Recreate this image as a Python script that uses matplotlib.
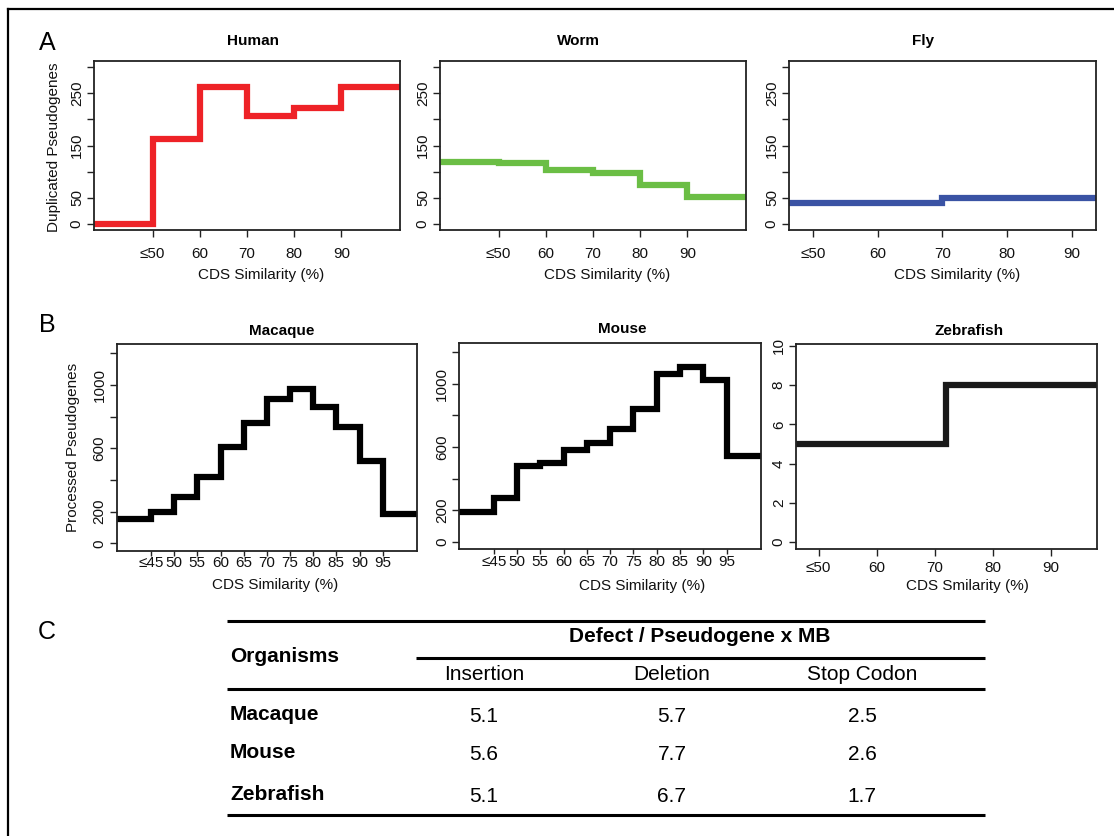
import matplotlib
matplotlib.use("Agg")
import matplotlib.pyplot as plt
from matplotlib.lines import Line2D

plt.rcParams['font.family'] = ['Liberation Sans', 'DejaVu Sans']

W, H = 1114, 836

# ---------------- data ----------------
# Panel A: duplicated pseudogenes by CDS similarity (bins)
dup_edges = [35, 50, 60, 70, 80, 90, 105]
human_vals = [0, 163, 262, 207, 221, 263]
worm_vals = [119, 117, 103, 98, 75, 51]
fly_edges = [40, 70, 100]
fly_vals = [39, 49]
a_xticks = [50, 60, 70, 80, 90]
a_xticklabels = ['≤50', '60', '70', '80', '90']
a_yticks = [0, 50, 100, 150, 200, 250, 300]
a_yticklabels = ['0', '50', '', '150', '', '250', '']

# Panel B: processed pseudogenes
proc_edges = [35, 45, 50, 55, 60, 65, 70, 75, 80, 85, 90, 95, 105]
macaque_vals = [154, 200, 291, 417, 606, 762, 909, 973, 859, 733, 520, 187]
mouse_vals = [189, 280, 480, 499, 583, 625, 712, 842, 1061, 1109, 1027, 543]
b_xticks = [45, 50, 55, 60, 65, 70, 75, 80, 85, 90, 95]
b_xticklabels = ['≤45', '50', '55', '60', '65', '70', '75', '80', '85', '90', '95']
b_yticks = [0, 200, 400, 600, 800, 1000, 1200]
b_yticklabels = ['0', '200', '', '600', '', '1000', '']
zebra_edges = [40, 72, 100]
zebra_vals = [5, 8]
z_yticks = [0, 2, 4, 6, 8, 10]

# Panel C: table
table_cols = ['Insertion', 'Deletion', 'Stop Codon']
table_rows = ['Macaque', 'Mouse', 'Zebrafish']
insertion = [5.1, 5.6, 5.1]
deletion = [5.7, 7.7, 6.7]
stop_codon = [2.5, 2.6, 1.7]

# ---------------- helpers ----------------
fig = plt.figure(figsize=(W / 100, H / 100), dpi=100)


def fx(x):
    return x / W


def fy(y):
    return 1 - y / H


def add_ax(x0, x1, y0, y1):
    return fig.add_axes([fx(x0), fy(y1), (x1 - x0) / W, (y1 - y0) / H])


def style(ax, xticks, xlabels, yticks, ylabels, xlim, ylim, xpad=7.5, xlen=4.8):
    ax.set_xlim(*xlim)
    ax.set_ylim(*ylim)
    ax.set_xticks(xticks)
    ax.set_xticklabels(xlabels)
    ax.set_yticks(yticks)
    ax.set_yticklabels(ylabels, rotation=90, va='center')
    ax.tick_params(axis='both', direction='out', length=4.8, width=1.0,
                   labelsize=11, color='#222222', labelcolor='#111111')
    ax.tick_params(axis='x', pad=xpad, length=xlen)
    ax.tick_params(axis='y', pad=2.5)
    for s in ax.spines.values():
        s.set_linewidth(1.3)
        s.set_color('#222222')


def fig_text(x, y, s, **kw):
    fig.text(fx(x), fy(y), s, ha='center', va='center', **kw)


# ---------------- Panel A ----------------
a_xlim = (37.6, 102.4)
a_ylim = (-12, 312)
axh = add_ax(94, 400, 61, 230)
axh.stairs(human_vals, dup_edges, baseline=None, color='#EE2227', linewidth=4.5,
           joinstyle='miter')
style(axh, a_xticks, a_xticklabels, a_yticks, a_yticklabels, a_xlim, a_ylim)

axw = add_ax(440, 746, 61, 230)
axw.stairs(worm_vals, dup_edges, baseline=None, color='#6BBE45', linewidth=4.5,
           joinstyle='miter')
style(axw, a_xticks, a_xticklabels, a_yticks, a_yticklabels, a_xlim, a_ylim)

axf = add_ax(789, 1096, 61, 230)
axf.stairs(fly_vals, fly_edges, baseline=None, color='#3A53A4', linewidth=4.5,
           joinstyle='miter')
style(axf, a_xticks, a_xticklabels, a_yticks, a_yticklabels, (46.3, 93.75), a_ylim)

fig_text(253, 41, 'Human', fontsize=11, fontweight='bold')
fig_text(578, 41, 'Worm', fontsize=11, fontweight='bold')
fig_text(923, 41, 'Fly', fontsize=11, fontweight='bold')
for xc in (261, 607, 957):
    fig_text(xc, 275, 'CDS Similarity (%)', fontsize=11, color='#111111')
fig_text(54, 147, 'Duplicated Pseudogenes', fontsize=11, rotation=90, color='#111111')

# ---------------- Panel B ----------------
b_xlim = (37.6, 102.4)
b_ylim = (-47, 1257)
axm = add_ax(116.7, 417, 344.3, 550.7)
axm.stairs(macaque_vals, proc_edges, baseline=None, color='black', linewidth=4.5,
           joinstyle='miter')
style(axm, b_xticks, b_xticklabels, b_yticks, b_yticklabels, b_xlim, b_ylim,
      xpad=0.3, xlen=3.5)

axmo = add_ax(459.3, 761, 343.3, 549.3)
axmo.stairs(mouse_vals, proc_edges, baseline=None, color='black', linewidth=4.5,
            joinstyle='miter')
style(axmo, b_xticks, b_xticklabels, b_yticks, b_yticklabels, b_xlim, b_ylim,
      xpad=0.3, xlen=3.5)

axz = add_ax(796, 1096.7, 344.3, 549.3)
axz.stairs(zebra_vals, zebra_edges, baseline=None, color='#1a1a1a', linewidth=4.5,
           joinstyle='miter')
style(axz, a_xticks, a_xticklabels, z_yticks, [str(v) for v in z_yticks],
      (46.1, 97.9), (-0.36, 10.07), xpad=3.5)

fig_text(282, 331, 'Macaque', fontsize=11, fontweight='bold')
fig_text(622, 329, 'Mouse', fontsize=11, fontweight='bold')
fig_text(969, 331, 'Zebrafish', fontsize=11, fontweight='bold')
fig_text(275, 585, 'CDS Similarity (%)', fontsize=11, color='#111111')
fig_text(642, 586, 'CDS Similarity (%)', fontsize=11, color='#111111')
fig_text(967, 586, 'CDS Smilarity (%)', fontsize=11, color='#111111')
fig_text(73, 447, 'Processed Pseudogenes', fontsize=11, rotation=90, color='#111111')

# ---------------- Panel letters ----------------
for lab, yy in (('A', 43), ('B', 325), ('C', 632)):
    fig_text(47, yy, lab, fontsize=18)

# ---------------- Outer border ----------------
fig.add_artist(Line2D([fx(8), fx(W + 5)], [fy(9), fy(9)], color='black', linewidth=1.6,
                      transform=fig.transFigure))
fig.add_artist(Line2D([fx(8), fx(8)], [fy(9), fy(H + 5)], color='black', linewidth=1.6,
                      transform=fig.transFigure))

# ---------------- Panel C table ----------------
def hline(x0, x1, y, lw=2.2):
    fig.add_artist(Line2D([fx(x0), fx(x1)], [fy(y), fy(y)], color='black', linewidth=lw,
                          transform=fig.transFigure, solid_capstyle='butt'))


hline(227, 985, 620.7)
hline(416, 985, 658)
hline(227, 985, 689)
hline(227, 985, 815)

tfs = 15
fig.text(fx(230), fy(656), 'Organisms', ha='left', va='center', fontsize=tfs,
         fontweight='bold')
fig_text(700, 637, 'Defect / Pseudogene x MB', fontsize=tfs, fontweight='bold')
col_x = [484, 672, 862]
for cx, name in zip(col_x, table_cols):
    fig_text(cx, 674, name, fontsize=tfs)
row_y = [714, 753, 794]
cols = [insertion, deletion, stop_codon]
for i, (ry, rname) in enumerate(zip(row_y, table_rows)):
    fig.text(fx(230), fy(ry), rname, ha='left', va='center', fontsize=tfs,
             fontweight='bold')
    for cx, col in zip(col_x, cols):
        fig_text(cx, ry + 2, f'{col[i]:.1f}', fontsize=tfs)

fig.savefig('out.png', dpi=100)
